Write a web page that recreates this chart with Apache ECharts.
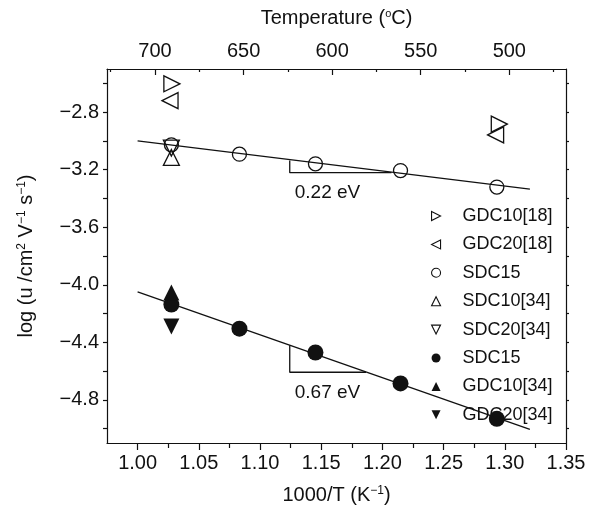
<!DOCTYPE html>
<html>
<head>
<meta charset="utf-8">
<script src="https://cdn.jsdelivr.net/npm/echarts@6/dist/echarts.min.js"></script>
<style>
html,body{margin:0;padding:0;background:#fff;}
#c{width:591px;height:513px;}
</style>
</head>
<body>
<div id="c"></div>
<script>
// ---- data ----
const xLabelValues = [1.00, 1.05, 1.10, 1.15, 1.20, 1.25, 1.30, 1.35];
const xMinorValues = [1.025, 1.075, 1.125, 1.175, 1.225, 1.275, 1.325];
const yLabelValues = [-4.8, -4.4, -4.0, -3.6, -3.2, -2.8];
const yTickValues = [-5.0, -4.8, -4.6, -4.4, -4.2, -4.0, -3.8, -3.6, -3.4, -3.2, -3.0, -2.8, -2.6];
const tempLabelValues = [700, 650, 600, 550, 500];
const tempMinorValues = [725, 675, 625, 575, 525, 475];

const gdc10_18 = [[1.028, -2.603], [1.2955, -2.883]];
const gdc20_18 = [[1.0265, -2.72], [1.2925, -2.958]];
const sdc15_open = [[1.0276, -3.027], [1.0832, -3.092], [1.1453, -3.159], [1.2148, -3.206], [1.2935, -3.321]];
const sdc10_34 = [[1.0276, -3.115]];
const sdc20_34 = [[1.0276, -3.05]];
const sdc15_filled = [[1.0276, -4.138], [1.0832, -4.305], [1.1453, -4.471], [1.2148, -4.686], [1.2935, -4.932]];
const gdc10_34 = [[1.0276, -4.053]];
const gdc20_34 = [[1.0276, -4.29]];

const fitUpper = [[1.0, -3.0], [1.3205, -3.335]];
const fitLower = [[1.0, -4.05], [1.3205, -5.006]];
const slopeUpper = [[1.1243, -3.136], [1.1243, -3.221], [1.2074, -3.221]];
const slopeLower = [[1.1243, -4.42], [1.1243, -4.608], [1.1866, -4.608]];
const annotations = [[1.1284, -3.36, '0.22 eV'], [1.1284, -4.749, '0.67 eV']];

// ---- chart ----
const FONT = 'Liberation Sans, Arial, Helvetica, sans-serif';
const chart = echarts.init(document.getElementById('c'), null, {renderer: 'canvas'});
const fmtMinus = v => (v < 0 ? '\u2212' : '') + Math.abs(v).toFixed(1);
const black = '#111';
const axisLineStyle = {show: true, lineStyle: {color: black, width: 1.2}};
const supStyle = {fontSize: 12, fontFamily: FONT, color: black, verticalAlign: 'top'};

const ICON = {
  up: 'path://M5,0L10,10L0,10Z',
  down: 'path://M0,0L10,0L5,10Z',
  right: 'path://M0,0L10,5L0,10Z',
  left: 'path://M10,0L0,5L10,10Z',
  circle: 'circle'
};
const markerDefs = [
  {name: 'GDC10[18]', data: gdc10_18, symbol: 'triangle', size: 16, rotate: -90, filled: false, icon: ICON.right},
  {name: 'GDC20[18]', data: gdc20_18, symbol: 'triangle', size: 16, rotate: 90, filled: false, icon: ICON.left},
  {name: 'SDC15', data: sdc15_open, symbol: 'circle', size: 14, rotate: 0, filled: false, icon: ICON.circle},
  {name: 'SDC10[34]', data: sdc10_34, symbol: 'triangle', size: 16, rotate: 0, filled: false, icon: ICON.up},
  {name: 'SDC20[34]', data: sdc20_34, symbol: 'triangle', size: 16, rotate: 180, filled: false, icon: ICON.down},
  {name: 'SDC15 ', data: sdc15_filled, symbol: 'circle', size: 16, rotate: 0, filled: true, icon: ICON.circle},
  {name: 'GDC10[34]', data: gdc10_34, symbol: 'triangle', size: 16, rotate: 0, filled: true, icon: ICON.up},
  {name: 'GDC20[34]', data: gdc20_34, symbol: 'triangle', size: 16, rotate: 180, filled: true, icon: ICON.down}
];
function itemStyleFor(filled) {
  return filled ? {color: black, borderColor: black, borderWidth: 0, opacity: 1}
                : {color: 'rgba(255,255,255,0)', borderColor: black, borderWidth: 1.3, opacity: 1};
}
function line(data) {
  return {type: 'line', data: data, symbol: 'none', xAxisIndex: 0, yAxisIndex: 0, z: 1,
          lineStyle: {color: black, width: 1.3}, silent: true, animation: false};
}

chart.setOption({
  animation: false,
  backgroundColor: '#fff',
  grid: {left: 107, right: 25, top: 69, bottom: 70},
  legend: {
    orient: 'vertical', left: 426, top: 202, itemWidth: 9, itemHeight: 9, itemGap: 10.4, z: 10,
    textStyle: {fontSize: 18, fontFamily: FONT, color: black, lineHeight: 18, padding: [0, 0, 0, 17]},
    data: markerDefs.map(d => ({name: d.name, icon: d.icon,
                                itemStyle: Object.assign({}, itemStyleFor(d.filled), {borderWidth: d.filled ? 0 : 1.1})}))
  },
  xAxis: [
    {
      type: 'value', position: 'bottom', min: 0.975, max: 1.35,
      axisLine: axisLineStyle,
      axisTick: {show: true, length: 7, inside: false, customValues: xLabelValues, lineStyle: {color: black, width: 1.2}},
      axisLabel: {show: true, customValues: xLabelValues, margin: 10, fontSize: 20, fontFamily: FONT, color: black,
                  formatter: v => v.toFixed(2)},
      splitLine: {show: false},
      name: '1000/T (K{s|\u22121})', nameLocation: 'middle', nameGap: 42,
      nameTextStyle: {fontSize: 20, fontFamily: FONT, color: black, rich: {s: supStyle}}
    },
    {
      type: 'value', position: 'bottom', min: 0.975, max: 1.35,
      axisLine: {show: false},
      axisTick: {show: true, length: 5, inside: false, customValues: xMinorValues, lineStyle: {color: black, width: 1.2}},
      axisLabel: {show: false}, splitLine: {show: false}
    },
    {
      type: 'value', position: 'top', inverse: true, min: 468, max: 727.1,
      axisLine: axisLineStyle,
      axisTick: {show: true, length: 6, inside: true, customValues: tempLabelValues, lineStyle: {color: black, width: 1.2}},
      axisLabel: {show: true, customValues: tempLabelValues, margin: 8, fontSize: 20, fontFamily: FONT, color: black,
                  formatter: v => String(Math.round(v))},
      splitLine: {show: false},
      name: 'Temperature ({s|o}C)', nameLocation: 'middle', nameGap: 41,
      nameTextStyle: {fontSize: 20, fontFamily: FONT, color: black, rich: {s: {fontSize: 11, fontFamily: FONT, color: black, verticalAlign: 'top'}}}
    },
    {
      type: 'value', position: 'top', inverse: true, min: 468, max: 727.1,
      axisLine: {show: false},
      axisTick: {show: true, length: 3, inside: true, customValues: tempMinorValues, lineStyle: {color: black, width: 1.2}},
      axisLabel: {show: false}, splitLine: {show: false}
    }
  ],
  yAxis: [
    {
      type: 'value', position: 'left', min: -5.1, max: -2.5,
      axisLine: axisLineStyle,
      axisTick: {show: true, length: 4, inside: false, customValues: yTickValues, lineStyle: {color: black, width: 1.2}},
      axisLabel: {show: true, customValues: yLabelValues, margin: 8, fontSize: 20, fontFamily: FONT, color: black,
                  formatter: fmtMinus},
      splitLine: {show: false},
      name: 'log (u /cm{s|2} V{s|\u22121} s{s|\u22121})', nameLocation: 'middle', nameGap: 71, nameRotate: 90,
      nameTextStyle: {fontSize: 20, fontFamily: FONT, color: black, rich: {s: supStyle}}
    },
    {
      type: 'value', position: 'right', min: -5.1, max: -2.5,
      axisLine: axisLineStyle,
      axisTick: {show: true, length: 3, inside: false, customValues: yTickValues, lineStyle: {color: black, width: 1.2}},
      axisLabel: {show: false}, splitLine: {show: false}
    }
  ],
  series: [
    line(fitUpper), line(fitLower), line(slopeUpper), line(slopeLower),
    {
      type: 'scatter', data: annotations, symbolSize: 0, xAxisIndex: 0, yAxisIndex: 0, silent: true, z: 2,
      itemStyle: {color: 'rgba(0,0,0,0)', opacity: 1},
      label: {show: true, position: 'right', distance: 0, fontSize: 19, fontFamily: FONT, color: black,
              formatter: p => p.data[2]}
    }
  ].concat(markerDefs.map(d => ({
    type: 'scatter', name: d.name, data: d.data, symbol: d.symbol, symbolSize: d.size,
    symbolRotate: d.rotate, xAxisIndex: 0, yAxisIndex: 0, z: 2, itemStyle: itemStyleFor(d.filled)
  })))
});
</script>
</body>
</html>
